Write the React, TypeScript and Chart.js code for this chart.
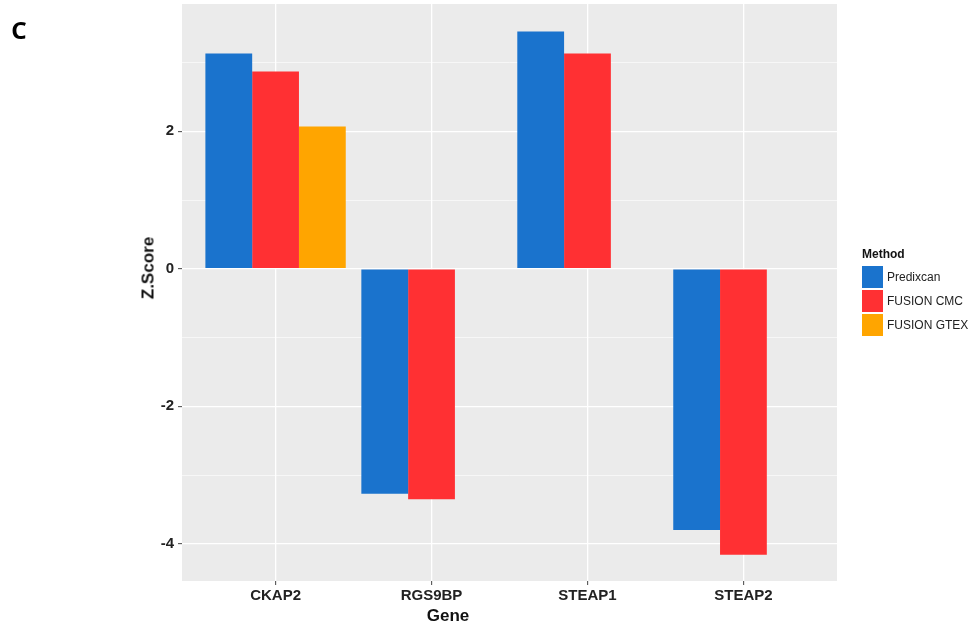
import React, { useEffect, useRef } from 'react';
import { Chart, registerables } from 'chart.js';

Chart.register(...registerables);

const genes = ['CKAP2', 'RGS9BP', 'STEAP1', 'STEAP2'];
const methods = ['Predixcan', 'FUSION CMC', 'FUSION GTEX'];
const predixcan = [3.13, -3.27, 3.45, -3.8];
const fusionCmc = [2.87, -3.35, 3.13, -4.16];
const fusionGtex: (number | null)[] = [2.07, null, null, null];
const yTicks = [-4, -3, -2, -1, 0, 1, 2, 3];
const colors = ['#1A73CD', '#FF3033', '#FFA500'];

const FONT = '"Liberation Sans", Arial, sans-serif';

const panelBg = {
  id: 'panelBg',
  beforeDraw(chart: any) {
    const { ctx, chartArea } = chart;
    if (!chartArea) return;
    ctx.save();
    ctx.fillStyle = '#EBEBEB';
    ctx.fillRect(chartArea.left, chartArea.top, chartArea.right - chartArea.left, chartArea.bottom - chartArea.top);
    ctx.restore();
  },
};

export default function App() {
  const ref = useRef<HTMLCanvasElement | null>(null);

  useEffect(() => {
    if (!ref.current) return;
    const series = [predixcan, fusionCmc, fusionGtex];
    const datasets = series.map((vals, k) => ({
      label: methods[k],
      data: vals
        .map((v, i) => (v === null ? null : { x: i + 1, y: v }))
        .filter((p) => p !== null) as any[],
      backgroundColor: colors[k],
      borderWidth: 0,
      categoryPercentage: 0.9,
      barPercentage: 1,
    }));

    const chart = new Chart(ref.current, {
      type: 'bar',
      data: { datasets },
      plugins: [panelBg],
      options: {
        responsive: false,
        animation: false,
        devicePixelRatio: 1,
        layout: { padding: { left: 0, top: 4, right: 141, bottom: 0 } },
        plugins: {
          legend: { display: false },
          tooltip: { enabled: false },
        },
        scales: {
          x: {
            type: 'linear',
            min: 0.4,
            max: 4.6,
            offset: false,
            border: { display: false },
            grid: {
              offset: false,
              color: '#FFFFFF',
              lineWidth: 1.3,
              tickLength: 4,
              tickColor: '#444444',
              tickWidth: 1,
            },
            afterBuildTicks: (scale: any) => {
              scale.ticks = genes.map((_, i) => ({ value: i + 1 }));
            },
            afterFit: (scale: any) => {
              scale.height = 44;
              scale.paddingLeft = 0;
              scale.paddingRight = 0;
            },
            ticks: {
              autoSkip: false,
              maxRotation: 0,
              padding: 2,
              color: '#222222',
              font: { family: FONT, size: 15, weight: 'bold' },
              callback: (v: any) => genes[Number(v) - 1] ?? '',
            },
          },
          y: {
            type: 'linear',
            min: -4.54,
            max: 3.85,
            border: { display: false },
            grid: {
              color: '#FFFFFF',
              lineWidth: (ctx: any) => (ctx.tick && ctx.tick.value % 2 === 0 ? 1.3 : 0.6),
              tickLength: 4,
              tickColor: (ctx: any) => (ctx.tick && ctx.tick.value % 2 === 0 ? '#444444' : 'rgba(0,0,0,0)'),
              tickWidth: 1,
            },
            afterBuildTicks: (scale: any) => {
              scale.ticks = yTicks.map((v) => ({ value: v }));
            },
            afterFit: (scale: any) => {
              scale.width = 182;
              scale.paddingTop = 0;
              scale.paddingBottom = 0;
            },
            ticks: {
              autoSkip: false,
              padding: 4,
              color: '#222222',
              font: { family: FONT, size: 15, weight: 'bold' },
              callback: (v: any) => (Number(v) % 2 === 0 ? String(v) : ''),
            },
          },
        },
      } as any,
    });
    return () => chart.destroy();
  }, []);

  const legendRows = methods.map((m, k) => (
    <div
      key={m}
      style={{ position: 'absolute', left: 862, top: 266 + k * 24, height: 22, display: 'flex', alignItems: 'center' }}
    >
      <div style={{ width: 21, height: 22, background: colors[k] }} />
      <span style={{ marginLeft: 4, fontFamily: FONT, fontSize: 12, color: '#222' }}>{m}</span>
    </div>
  ));

  return (
    <div style={{ position: 'absolute', left: 0, top: 0, width: 978, height: 625, background: '#fff', overflow: 'hidden' }}>
      <canvas ref={ref} width={978} height={625} style={{ display: 'block', width: 978, height: 625 }} />
      <div
        style={{
          position: 'absolute',
          left: 19,
          top: 30,
          transform: 'translate(-50%, -50%)',
          fontFamily: '"Noto Sans", "Liberation Sans", sans-serif',
          fontWeight: 'bold',
          fontSize: 24,
          color: '#000',
          lineHeight: 1,
        }}
      >
        C
      </div>
      <div
        style={{
          position: 'absolute',
          left: 148,
          top: 268,
          transform: 'translate(-50%, -50%) rotate(-90deg)',
          fontFamily: FONT,
          fontWeight: 'bold',
          fontSize: 17,
          color: '#111',
          whiteSpace: 'nowrap',
          lineHeight: 1,
        }}
      >
        Z.Score
      </div>
      <div
        style={{
          position: 'absolute',
          left: 448,
          top: 615,
          transform: 'translate(-50%, -50%)',
          fontFamily: FONT,
          fontWeight: 'bold',
          fontSize: 17,
          color: '#111',
          whiteSpace: 'nowrap',
          lineHeight: 1,
        }}
      >
        Gene
      </div>
      <div
        style={{
          position: 'absolute',
          left: 862,
          top: 246,
          fontFamily: FONT,
          fontWeight: 'bold',
          fontSize: 12,
          color: '#111',
          lineHeight: '16px',
        }}
      >
        Method
      </div>
      {legendRows}
    </div>
  );
}
